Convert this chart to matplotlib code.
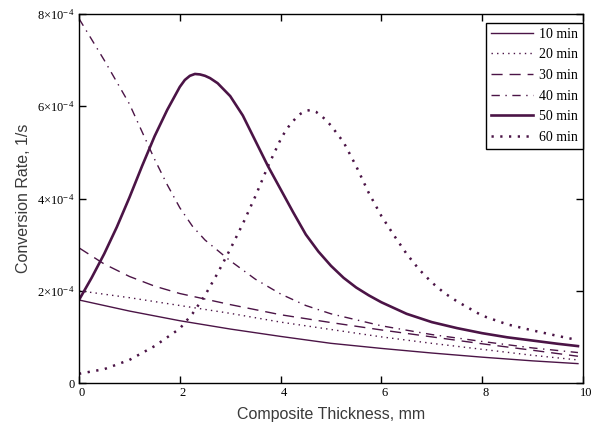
import numpy as np
import matplotlib
matplotlib.use('Agg')
from matplotlib import pyplot as plt
from matplotlib.ticker import FixedLocator, FuncFormatter
import matplotlib.transforms as mtransforms

plt.rcParams['mathtext.fontset'] = 'custom'
plt.rcParams['mathtext.rm'] = 'Liberation Serif'
plt.rcParams['mathtext.it'] = 'Liberation Serif:italic'
plt.rcParams['mathtext.bf'] = 'Liberation Serif:bold'

# conversion rate values in units of 1e-4 1/s, thickness in mm
x10 = [0, 1, 2, 3, 4, 5, 6, 7, 8, 9, 9.9]
y10 = [1.80, 1.56, 1.35, 1.17, 1.01, 0.86, 0.75, 0.65, 0.56, 0.48, 0.42]

x20 = [0, 1, 2, 3, 4, 5, 6, 7, 8, 9, 9.9]
y20 = [2.00, 1.85, 1.68, 1.51, 1.32, 1.16, 1.00, 0.86, 0.73, 0.60, 0.50]

x30 = [0, 0.5, 1, 1.5, 2, 3, 4, 5, 6, 7, 8, 9, 9.9]
y30 = [2.93, 2.58, 2.31, 2.10, 1.94, 1.70, 1.48, 1.31, 1.15, 1.00, 0.85, 0.71, 0.58]

x40 = [0, 0.5, 1, 1.5, 1.75, 2, 2.25, 2.5, 3, 3.5, 4, 4.5, 5, 6, 7, 8, 9, 9.9]
y40 = [7.90, 7.00, 6.05, 4.85, 4.30, 3.80, 3.40, 3.10, 2.65, 2.25, 1.93,
       1.68, 1.50, 1.24, 1.05, 0.90, 0.76, 0.66]

x50 = [0, 0.25, 0.5, 0.75, 1.0, 1.25, 1.5, 1.75, 2.0, 2.1, 2.2, 2.3, 2.4,
       2.5, 2.6, 2.75, 3.0, 3.25, 3.5, 3.75, 4.0, 4.25, 4.5, 4.75, 5.0,
       5.25, 5.5, 5.75, 6.0, 6.5, 7.0, 7.5, 8.0, 8.5, 9.0, 9.5, 9.9]
y50 = [1.80, 2.28, 2.80, 3.38, 4.02, 4.70, 5.35, 5.92, 6.42, 6.57, 6.66,
       6.70, 6.69, 6.66, 6.61, 6.50, 6.22, 5.80, 5.25, 4.70, 4.20, 3.70,
       3.22, 2.85, 2.54, 2.28, 2.07, 1.90, 1.75, 1.50, 1.32, 1.19, 1.08,
       0.99, 0.92, 0.85, 0.80]

x60 = [0, 0.5, 1.0, 1.5, 2.0, 2.25, 2.5, 2.75, 3.0, 3.25, 3.5, 3.75, 4.0,
       4.1, 4.2, 4.3, 4.4, 4.5, 4.6, 4.7, 4.8, 4.9, 5.0, 5.25, 5.5, 5.75,
       6.0, 6.25, 6.5, 6.75, 7.0, 7.25, 7.5, 8.0, 8.5, 9.0, 9.5, 9.9]
y60 = [0.20, 0.30, 0.50, 0.80, 1.18, 1.50, 1.90, 2.38, 2.90, 3.45, 4.05,
       4.70, 5.28, 5.47, 5.62, 5.74, 5.84, 5.90, 5.92, 5.88, 5.80, 5.70,
       5.58, 5.22, 4.70, 4.12, 3.62, 3.20, 2.80, 2.46, 2.18, 1.95, 1.77,
       1.46, 1.27, 1.14, 1.02, 0.93]

labels = ['10 min', '20 min', '30 min', '40 min', '50 min', '60 min']
xTicks = [0, 2, 4, 6, 8, 10]
yTicks = [0, 2, 4, 6, 8]

color = '#4b1446'

fig = plt.figure(figsize=(5.98, 4.26), dpi=100)
ax = fig.add_axes([79/598, 1 - 383/426, 504/598, 369/426])

scale = 1e-4
ax.plot(x10, np.array(y10)*scale, '-', color=color, lw=1.0, label=labels[0])
ax.plot(x20, np.array(y20)*scale, color=color, lw=1.0, dashes=(1, 3),
        label=labels[1])
ax.plot(x30, np.array(y30)*scale, color=color, lw=1.0, dashes=(8, 5),
        label=labels[2])
ax.plot(x40, np.array(y40)*scale, color=color, lw=1.0, dashes=(6, 4, 1, 4),
        label=labels[3])
ax.plot(x50, np.array(y50)*scale, '-', color=color, lw=1.9, label=labels[4])
ax.plot(x60, np.array(y60)*scale, color=color, lw=1.8, dashes=(0.9, 2.6),
        label=labels[5])

ax.set_xlim(0, 10)
ax.set_ylim(0, 8e-4)

ax.xaxis.set_major_locator(FixedLocator(xTicks))
ax.yaxis.set_major_locator(FixedLocator([v*scale for v in yTicks]))

def yFormat(v, pos):
    n = int(round(v / scale))
    if n == 0:
        return '0'
    return r'$\mathrm{%d{\times}10^{-\,4}}$' % n

ax.yaxis.set_major_formatter(FuncFormatter(yFormat))
ax.xaxis.set_major_formatter(FuncFormatter(lambda v, p: '%d' % v))

ax.tick_params(direction='in', length=5, width=1, top=True, right=True,
               labelsize=9, pad=3)
for lab in ax.get_xticklabels() + ax.get_yticklabels():
    lab.set_family('Liberation Serif')

offset = mtransforms.ScaledTranslation(3/100, 0, fig.dpi_scale_trans)
for lab in ax.get_xticklabels():
    lab.set_transform(lab.get_transform() + offset)

for side in ax.spines.values():
    side.set_color('black')
    side.set_linewidth(1.0)

ax.set_xlabel('Composite Thickness, mm', family='Liberation Sans',
              fontsize=11.5, color='#3a3a3a', labelpad=6)
ax.set_ylabel('Conversion Rate, 1/s', family='Liberation Sans',
              fontsize=11.5, color='#3a3a3a', labelpad=4)

leg = ax.legend(loc='upper right', bbox_to_anchor=(1.0, 0.976),
                borderaxespad=0, fancybox=False, framealpha=1,
                edgecolor='black', handlelength=3.0, handletextpad=0.45,
                labelspacing=0.55, borderpad=0.35,
                prop={'family': 'Liberation Serif', 'size': 10})
leg.get_frame().set_linewidth(1.0)

plt.savefig('out.png', dpi=100)
